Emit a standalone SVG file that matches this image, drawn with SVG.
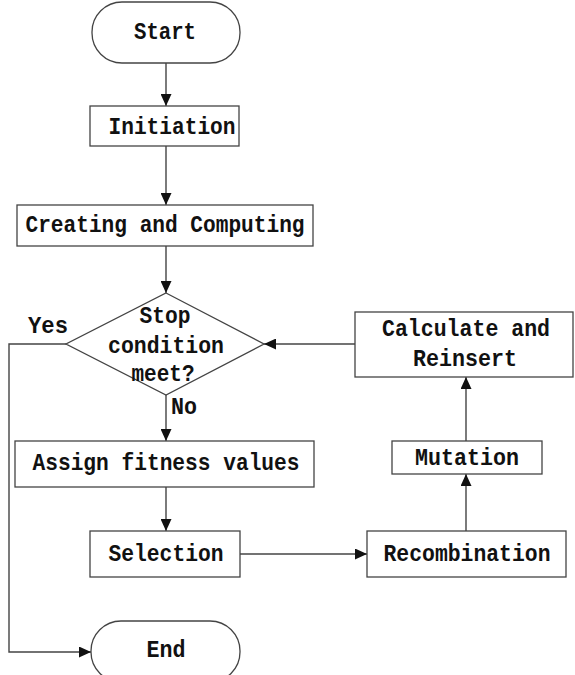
<svg xmlns="http://www.w3.org/2000/svg" width="575" height="675" viewBox="0 0 575 675">
<style>
.box{fill:#fff;stroke:#444;stroke-width:1.3}
.t{font-family:"Liberation Mono","DejaVu Sans Mono",monospace;font-size:24px;font-weight:bold;fill:#111;text-anchor:middle}
.c{fill:none;stroke:#444;stroke-width:1.4}
</style>
<defs>
<marker id="ah" markerUnits="userSpaceOnUse" markerWidth="12" markerHeight="11" viewBox="0 0 12 11" refX="12" refY="5.5" orient="auto">
<path d="M0,0 L12,5.5 L0,11 Z" fill="#111"/>
</marker>
</defs>
<rect width="575" height="675" fill="#fff"/>
<g id="connectors">
<line class="c" x1="166" y1="63" x2="166" y2="106" marker-end="url(#ah)"/>
<line class="c" x1="166" y1="146" x2="166" y2="205" marker-end="url(#ah)"/>
<line class="c" x1="166" y1="246" x2="166" y2="293" marker-end="url(#ah)"/>
<line class="c" x1="166" y1="395" x2="166" y2="441" marker-end="url(#ah)"/>
<line class="c" x1="166" y1="487" x2="166" y2="531" marker-end="url(#ah)"/>
<line class="c" x1="240" y1="554" x2="367" y2="554" marker-end="url(#ah)"/>
<line class="c" x1="466" y1="531" x2="466" y2="474" marker-end="url(#ah)"/>
<line class="c" x1="466" y1="441" x2="466" y2="377" marker-end="url(#ah)"/>
<line class="c" x1="355" y1="344" x2="264" y2="344" marker-end="url(#ah)"/>
<polyline class="c" points="66,344 9,344 9,652 91,652" marker-end="url(#ah)"/>
<text class="t" x="48" y="333" textLength="40" lengthAdjust="spacingAndGlyphs">Yes</text>
<text class="t" x="184" y="414" textLength="26" lengthAdjust="spacingAndGlyphs">No</text>
</g>
<g id="start">
<rect class="box" x="92" y="2" width="148" height="61" rx="30" ry="30"/>
<text class="t" x="165" y="39" textLength="62" lengthAdjust="spacingAndGlyphs">Start</text>
</g>
<g id="initiation">
<rect class="box" x="90" y="106" width="149" height="40"/>
<text class="t" x="172" y="134" textLength="127" lengthAdjust="spacingAndGlyphs">Initiation</text>
</g>
<g id="creating">
<rect class="box" x="17" y="205" width="296" height="41"/>
<text class="t" x="165" y="232" textLength="279" lengthAdjust="spacingAndGlyphs">Creating and Computing</text>
</g>
<g id="decision">
<polygon class="box" points="166,293 264,344 166,395 66,344"/>
<text class="t" x="165" y="323" textLength="51" lengthAdjust="spacingAndGlyphs">Stop</text>
<text class="t" x="166" y="353" textLength="116" lengthAdjust="spacingAndGlyphs">condition</text>
<text class="t" x="163" y="381" textLength="63" lengthAdjust="spacingAndGlyphs">meet?</text>
</g>
<g id="calculate">
<rect class="box" x="355" y="312" width="218" height="65"/>
<text class="t" x="466" y="336" textLength="168" lengthAdjust="spacingAndGlyphs">Calculate and</text>
<text class="t" x="465" y="366" textLength="104" lengthAdjust="spacingAndGlyphs">Reinsert</text>
</g>
<g id="assign">
<rect class="box" x="15" y="441" width="299" height="46"/>
<text class="t" x="166" y="470" textLength="267" lengthAdjust="spacingAndGlyphs">Assign fitness values</text>
</g>
<g id="mutation">
<rect class="box" x="392" y="441" width="150" height="33"/>
<text class="t" x="467" y="465" textLength="104" lengthAdjust="spacingAndGlyphs">Mutation</text>
</g>
<g id="selection">
<rect class="box" x="90" y="531" width="150" height="46"/>
<text class="t" x="166" y="561" textLength="115" lengthAdjust="spacingAndGlyphs">Selection</text>
</g>
<g id="recombination">
<rect class="box" x="367" y="531" width="199" height="46"/>
<text class="t" x="467" y="561" textLength="167" lengthAdjust="spacingAndGlyphs">Recombination</text>
</g>
<g id="end">
<rect class="box" x="91" y="621" width="149" height="61" rx="30" ry="30"/>
<text class="t" x="166" y="657" textLength="39" lengthAdjust="spacingAndGlyphs">End</text>
</g>
</svg>
